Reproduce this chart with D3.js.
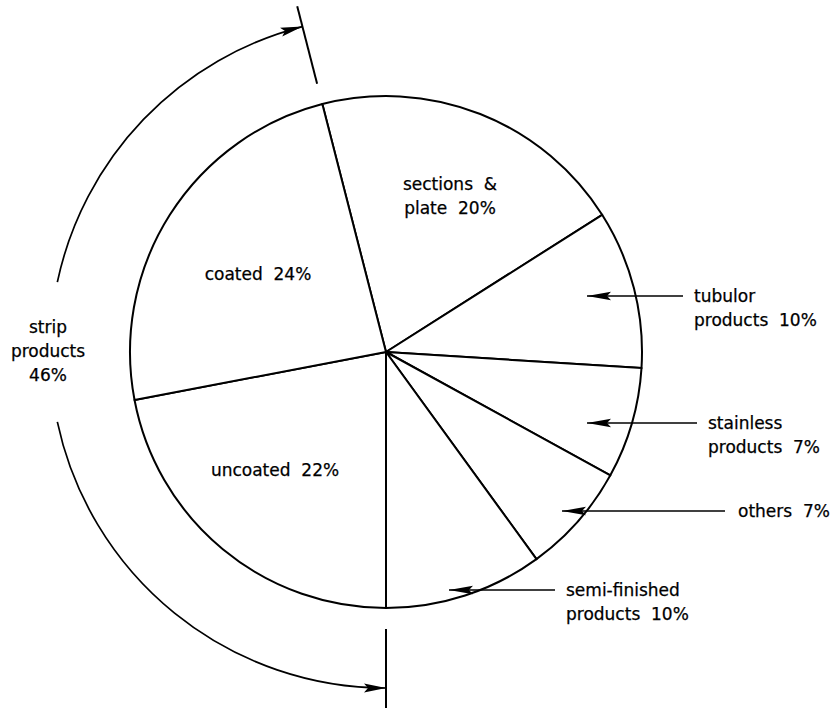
<!DOCTYPE html>
<html>
<head>
<meta charset="utf-8">
<script src="https://cdn.jsdelivr.net/npm/d3@7"></script>
<style>
  body { margin: 0; background: #fff; }
  svg text { font-family: "DejaVu Sans", sans-serif; font-size: 17px; fill: #000; stroke: #000; stroke-width: 0.25px; white-space: pre; }
</style>
</head>
<body>
<script>
// data: shares of product types (clockwise from the "sections" slice)
const categories = ["sections & plate", "tubulor products", "stainless products", "others",
                    "semi-finished products", "uncoated", "coated"];
const values = [20, 10, 7, 7, 10, 22, 24];
const labelLines = [
  ["sections  &", "plate  20%"],
  ["tubulor", "products  10%"],
  ["stainless", "products  7%"],
  ["others  7%"],
  ["semi-finished", "products  10%"],
  ["uncoated  22%"],
  ["coated  24%"]
];
// bracketed group
const groupMembers = ["uncoated", "coated"];
const groupLines = ["strip", "products"];

// layout
const width = 834, height = 708;
const cx = 386, cy = 352, r = 256;
const bracketR = 336;
const deg = Math.PI / 180;
const lineGap = 24;

// where each label sits (inside labels centred, callouts with a pointer arrow)
const labelLayout = {
  "sections & plate": {x: 450, y: 190},
  "coated": {x: 258, y: 280},
  "uncoated": {x: 275, y: 476},
  "tubulor products": {y: 296, tip: 587, end: 683, tx: 694},
  "stainless products": {y: 423, tip: 587, end: 697, tx: 708},
  "others": {y: 511, tip: 562, end: 725, tx: 738},
  "semi-finished products": {y: 590, tip: 449, end: 555, tx: 566}
};

const svg = d3.select('body').append('svg')
  .attr('width', width)
  .attr('height', height);

const pie = d3.pie().sort(null).value(d => d)
  .startAngle(-14.4 * deg).endAngle(345.6 * deg);
const arcs = pie(values);
const arc = d3.arc().innerRadius(0).outerRadius(r);

const g = svg.append('g').attr('transform', `translate(${cx},${cy})`);

g.selectAll('path.slice')
  .data(arcs)
  .enter()
  .append('path')
  .attr('class', 'slice')
  .attr('d', arc)
  .attr('fill', '#fff')
  .attr('stroke', '#000')
  .attr('stroke-width', 2)
  .attr('stroke-linejoin', 'round');

// arrowhead shape, tip at origin pointing along +x
const headPath = (len, w) => `M0,0L${-len},${-w}L${-len + 4},0L${-len},${w}Z`;
const pt = (a, rad) => [rad * Math.sin(a), -rad * Math.cos(a)];

// inside labels + callouts
arcs.forEach((d, i) => {
  const name = categories[i];
  const lay = labelLayout[name];
  const lines = labelLines[i];
  if (lay.tip === undefined) {
    const t = svg.append('text').attr('text-anchor', 'middle');
    lines.forEach((s, k) => t.append('tspan').attr('x', lay.x).attr('y', lay.y + k * lineGap).text(s));
  } else {
    svg.append('line')
      .attr('x1', lay.tip).attr('y1', lay.y)
      .attr('x2', lay.end).attr('y2', lay.y)
      .attr('stroke', '#000').attr('stroke-width', 1.6);
    svg.append('path')
      .attr('d', headPath(24, 4.2))
      .attr('transform', `translate(${lay.tip},${lay.y}) rotate(180)`)
      .attr('fill', '#000');
    const t = svg.append('text').attr('text-anchor', 'start');
    lines.forEach((s, k) => t.append('tspan').attr('x', lay.tx).attr('y', lay.y + 6 + k * lineGap).text(s));
  }
});

// bracket round the strip products
const members = arcs.filter((d, i) => groupMembers.includes(categories[i]));
const a0 = d3.min(members, d => d.startAngle);   // bottom end
const a1 = d3.max(members, d => d.endAngle);     // top end
const groupTotal = d3.sum(members, d => d.value);
const mid = 270 * deg;                           // label gap on the left
const gapHalf = 12 * deg;

const bracket = svg.append('g').attr('transform', `translate(${cx},${cy})`);
const arcPath = (s, e) => {
  const p = d3.path();
  p.arc(0, 0, bracketR, s - Math.PI / 2, e - Math.PI / 2, false);
  return p.toString();
};
bracket.append('path').attr('d', arcPath(mid + gapHalf, a1))
  .attr('fill', 'none').attr('stroke', '#000').attr('stroke-width', 1.7);
bracket.append('path').attr('d', arcPath(a0, mid - gapHalf))
  .attr('fill', 'none').attr('stroke', '#000').attr('stroke-width', 1.7);

// ticks at both ends
[a0, a1].forEach(a => {
  const p1 = pt(a, 277), p2 = pt(a, 357);
  bracket.append('line')
    .attr('x1', p1[0]).attr('y1', p1[1])
    .attr('x2', p2[0]).attr('y2', p2[1])
    .attr('stroke', '#000').attr('stroke-width', 2);
});

// arrowheads on the bracket ends
const topTip = pt(a1, bracketR);
bracket.append('path').attr('d', headPath(22, 4.5))
  .attr('transform', `translate(${topTip[0]},${topTip[1]}) rotate(${a1 / deg})`)
  .attr('fill', '#000');
const botTip = pt(a0, bracketR);
bracket.append('path').attr('d', headPath(22, 4.5))
  .attr('transform', `translate(${botTip[0]},${botTip[1]}) rotate(${a0 / deg + 180})`)
  .attr('fill', '#000');

// group label in the gap
const gp = pt(mid, bracketR);
const gt = svg.append('text').attr('text-anchor', 'middle');
groupLines.concat([groupTotal + '%']).forEach((s, k) =>
  gt.append('tspan').attr('x', cx + gp[0] - 2).attr('y', cy + gp[1] - 19 + k * lineGap).text(s));
</script>
</body>
</html>
